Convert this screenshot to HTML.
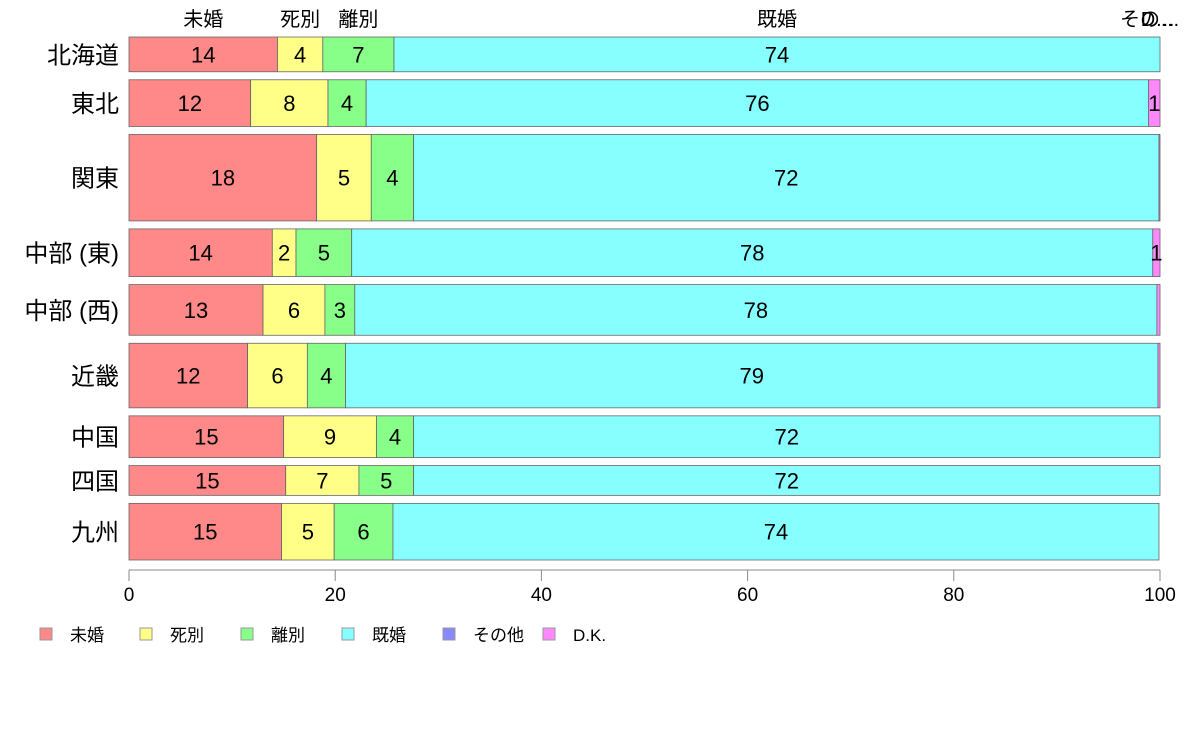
<!DOCTYPE html>
<html><head><meta charset="utf-8"><style>
body{margin:0;background:#fff;width:1188px;height:736px;overflow:hidden}
svg{font-family:"Liberation Sans","Noto Sans CJK JP",sans-serif}
</style></head><body>
<svg id="chart" width="1188" height="736" xmlns="http://www.w3.org/2000/svg"></svg>
<script>
const regions = ["北海道","東北","関東","中部 (東)","中部 (西)","近畿","中国","四国","九州"];
const categories = ["未婚","死別","離別","既婚","その他","D.K."];
const weights = [35,47,87,48,51,65,42,30,57];
const sMikon = [14.4,11.8,18.2,13.9,13.0,11.5,15.0,15.2,14.8];
const sShibetsu = [4.4,7.5,5.3,2.3,6.0,5.8,9.0,7.1,5.1];
const sRibetsu = [6.9,3.7,4.1,5.4,2.9,3.7,3.6,5.3,5.7];
const sKikon = [74.3,75.9,72.3,77.7,77.8,78.8,72.4,72.4,74.3];
const sOther = [0,0,0,0,0,0,0,0,0];
const sDK = [0,1.1,0.1,0.7,0.3,0.2,0,0,0];
const xTicks = [0,20,40,60,80,100];

const series=[sMikon,sShibetsu,sRibetsu,sKikon,sOther,sDK];
const colors=["#FF8888","#FFFF88","#88FF88","#88FFFF","#8888FF","#FF88FF"];
const NS="http://www.w3.org/2000/svg";
const svg=document.getElementById("chart");
const x0=129,x1=1160,yTop=37,yBot=560,gap=8;
const sx=v=>x0+(x1-x0)*v/100;
function el(t,a,p){const e=document.createElementNS(NS,t);for(const k in a)e.setAttribute(k,a[k]);(p||svg).appendChild(e);return e;}
const totalW=weights.reduce((a,b)=>a+b,0);
const avail=(yBot-yTop)-gap*(regions.length-1);
let y=yTop;
regions.forEach((r,i)=>{
  const h=avail*weights[i]/totalW;
  const g=el("g",{});
  
  
  let cum=0;
  series.forEach((s,j)=>{
    const v=s[i];
    const xa=sx(cum),xb=sx(cum+v);
    if(v>0){
      const rc=el("rect",{x:xa,y:y,width:xb-xa,height:h,fill:colors[j],stroke:"#666","stroke-width":0.8},g);
      
      
      const rv=Math.round(v);
      if(rv>=1){
        const t=el("text",{x:(xa+xb)/2,y:y+h/2+8,"text-anchor":"middle","font-size":22,fill:"#000"},g);
        
        
        t.textContent=rv;
      }
    }
    if(i===0){
      const lx=j<4?(xa+xb)/2:(j===4?1150:1158);
      const t=el("text",{x:lx,y:26,"text-anchor":"middle","font-size":20,fill:"#000"});
      
      
      t.textContent=j<4?categories[j]:(j===4?"その…":"D…");
    }
    cum+=v;
  });
  const t=el("text",{x:119,y:y+h/2+9,"text-anchor":"end","font-size":24,fill:"#000"});
  
  
  t.textContent=r;
  y+=h+gap;
});
const ax=el("line",{x1:x0,x2:x1,y1:570,y2:570,stroke:"#888","stroke-width":1});


xTicks.forEach(v=>{
  const tl=el("line",{x1:sx(v),x2:sx(v),y1:570,y2:581,stroke:"#888"});
  
  
  const t=el("text",{x:sx(v),y:601,"text-anchor":"middle","font-size":19,fill:"#000"});
  
  
  t.textContent=v;
});
const legX=[40,140,241,342,443,543];
categories.forEach((c,j)=>{
  const r=el("rect",{x:legX[j],y:628,width:12,height:12,fill:colors[j],stroke:"#999"});
  
  
  const t=el("text",{x:legX[j]+30,y:641,"font-size":17,fill:"#000"});
  
  
  t.textContent=c;
});
</script>
</body></html>
